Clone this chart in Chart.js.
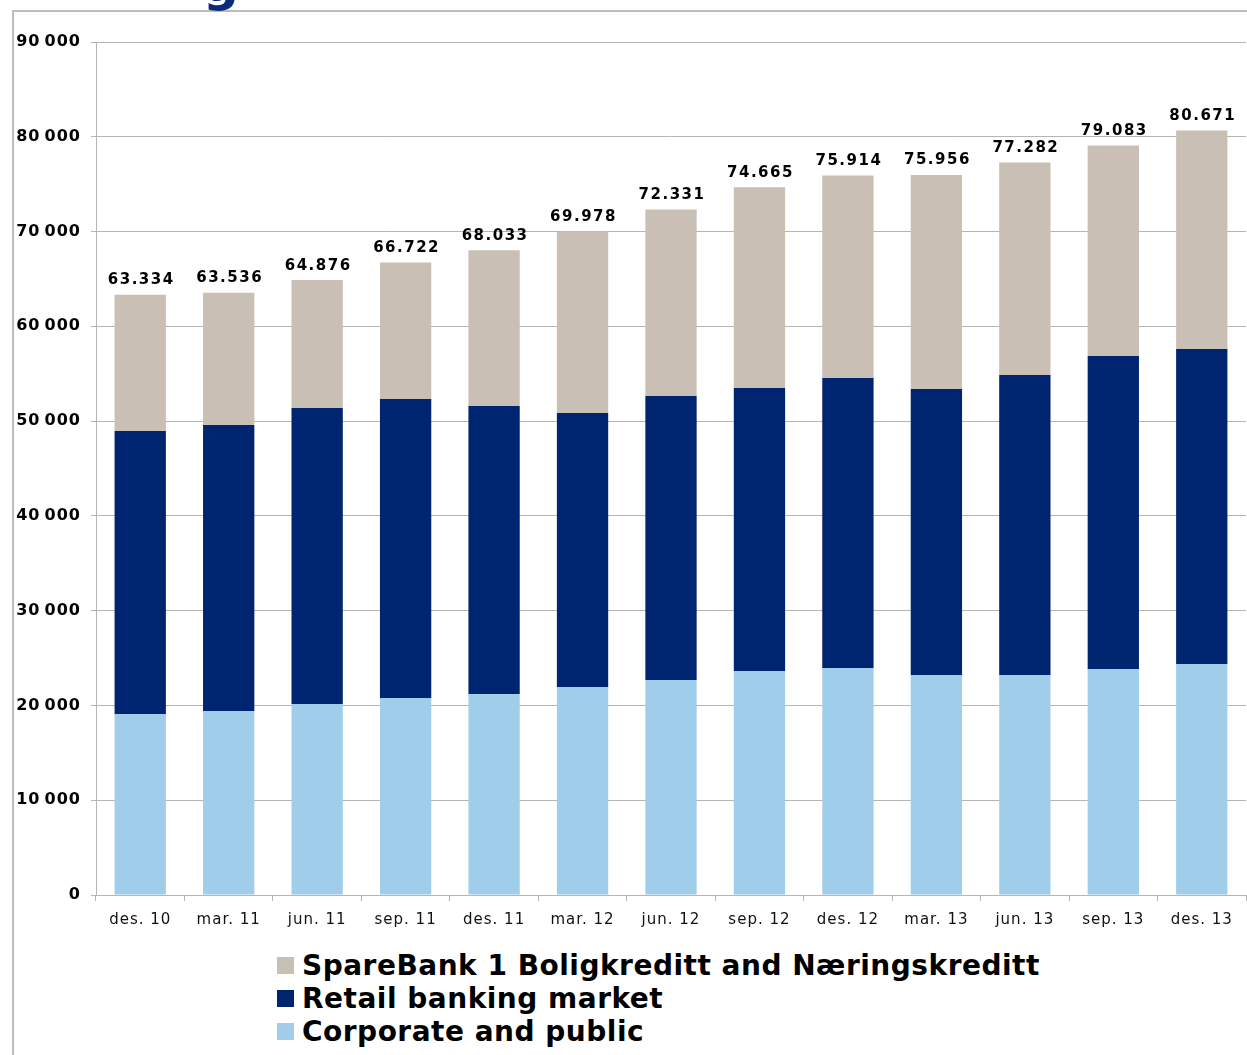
<!DOCTYPE html>
<html>
<head>
<meta charset="utf-8">
<script src="https://cdn.jsdelivr.net/npm/chart.js@4"></script>
<style>
  html, body { margin: 0; padding: 0; background: #fff; }
  body { width: 1247px; height: 1055px; position: relative; overflow: hidden; font-family: "DejaVu Sans", Verdana, sans-serif; }
  /* ramme rundt figuren */
  #frame { position: absolute; left: 12px; top: 10px; width: 1300px; height: 1100px; border-top: 2px solid #bdbdbd; border-left: 2px solid #bdbdbd; }
  #heading { position: absolute; left: 203px; top: -41px; font: bold 50px/50px "DejaVu Sans", sans-serif; color: #0a2d7a; }
  #wrap { position: absolute; left: 0; top: 0; width: 1247px; height: 945px; }
  #legend { position: absolute; left: 277px; top: 949px; }
  .item { display: flex; align-items: center; height: 33px; font: bold 28px "DejaVu Sans", sans-serif; color: #000; letter-spacing: 0.5px; }
  .box { width: 17px; height: 17px; margin-right: 8px; }
</style>
</head>
<body>
<div id="frame"></div>
<div id="heading">g</div>
<div id="wrap"><canvas id="loanChart"></canvas></div>
<div id="legend"></div>

<script>
// Kategorier og verdier (mill. kr)
const periods = ["des. 10", "mar. 11", "jun. 11", "sep. 11", "des. 11", "mar. 12", "jun. 12",
                 "sep. 12", "des. 12", "mar. 13", "jun. 13", "sep. 13", "des. 13"];
const corporate = [19100, 19410, 20150, 20790, 21210, 21950, 22680, 23630, 23950, 23210, 23210, 23840, 24370];
const retail = [29860, 30180, 31230, 31540, 30380, 28900, 29970, 29860, 30600, 30180, 31650, 33030, 33240];
const totals = [63334, 63536, 64876, 66722, 68033, 69978, 72331, 74665, 75914, 75956, 77282, 79083, 80671];
const totalLabels = ["63.334", "63.536", "64.876", "66.722", "68.033", "69.978", "72.331",
                     "74.665", "75.914", "75.956", "77.282", "79.083", "80.671"];
// resten av totalen ligger i boligkredittselskapene
const boligkreditt = totals.map((t, i) => t - corporate[i] - retail[i]);

const yTicks = [0, 10000, 20000, 30000, 40000, 50000, 60000, 70000, 80000, 90000];

const seriesNames = ["SpareBank 1 Boligkreditt and Næringskreditt", "Retail banking market", "Corporate and public"];
const seriesColors = ["#c9bfb5", "#002570", "#a0cde9"];

const gridGray = "#b5b5b5";

// Tekst over hver stolpe med totalen
const totalsPlugin = {
    id: "totals",
    afterDatasetsDraw(chart) {
        const ctx = chart.ctx;
        const y = chart.scales.y;
        const meta = chart.getDatasetMeta(2);
        ctx.save();
        ctx.font = "bold 15px 'DejaVu Sans', sans-serif";
        ctx.letterSpacing = "1.5px";
        ctx.fillStyle = "#000";
        ctx.textAlign = "center";
        ctx.textBaseline = "bottom";
        meta.data.forEach((bar, i) => {
            ctx.fillText(totalLabels[i], bar.x + 1, y.getPixelForValue(totals[i]) - 7);
        });
        ctx.restore();
    }
};

// litt luft mellom tegnene på aksetekstene
const spacingPlugin = {
    id: "spacing",
    beforeDraw(chart) {
        chart.ctx.letterSpacing = "1px";
    }
};

const chart = new Chart(document.getElementById("loanChart"), {
    type: "bar",
    data: {
        labels: periods,
        datasets: [
            { label: seriesNames[2], data: corporate, backgroundColor: seriesColors[2] },
            { label: seriesNames[1], data: retail, backgroundColor: seriesColors[1] },
            { label: seriesNames[0], data: boligkreditt, backgroundColor: seriesColors[0] },
        ],
    },
    options: {
        responsive: true,
        maintainAspectRatio: false,
        animation: false,
        barPercentage: 0.58,
        categoryPercentage: 1,
        layout: { padding: { top: 42, right: 1, left: 0, bottom: 0 } },
        plugins: {
            legend: { display: false },
            tooltip: { enabled: false },
        },
        scales: {
            x: {
                stacked: true,
                grid: { display: true, drawOnChartArea: false, color: gridGray, tickLength: 6, offset: true },
                border: { color: gridGray },
                ticks: { color: "#111", font: { family: "DejaVu Sans", size: 15 }, padding: 10, maxRotation: 0 },
                afterFit(scale) { scale.height = 50; },
            },
            y: {
                stacked: true,
                min: 0,
                max: 90000,
                afterBuildTicks(scale) { scale.ticks = yTicks.map((v) => ({ value: v })); },
                grid: { color: gridGray, tickLength: 5 },
                border: { color: gridGray },
                ticks: {
                    color: "#000",
                    font: { family: "DejaVu Sans", size: 16, weight: "bold" },
                    padding: 10,
                    callback: (v) => v === 0 ? "0" : (v / 1000) + "\u2009000",
                },
                afterFit(scale) { scale.width = 96; },
            },
        },
    },
    plugins: [spacingPlugin, totalsPlugin],
});

// Forklaring under grafen
const legend = document.getElementById("legend");
seriesNames.forEach((name, i) => {
    const row = document.createElement("div");
    row.className = "item";
    row.innerHTML = `<span class="box" style="background:${seriesColors[i]}"></span>${name}`;
    legend.appendChild(row);
});
</script>
</body>
</html>
